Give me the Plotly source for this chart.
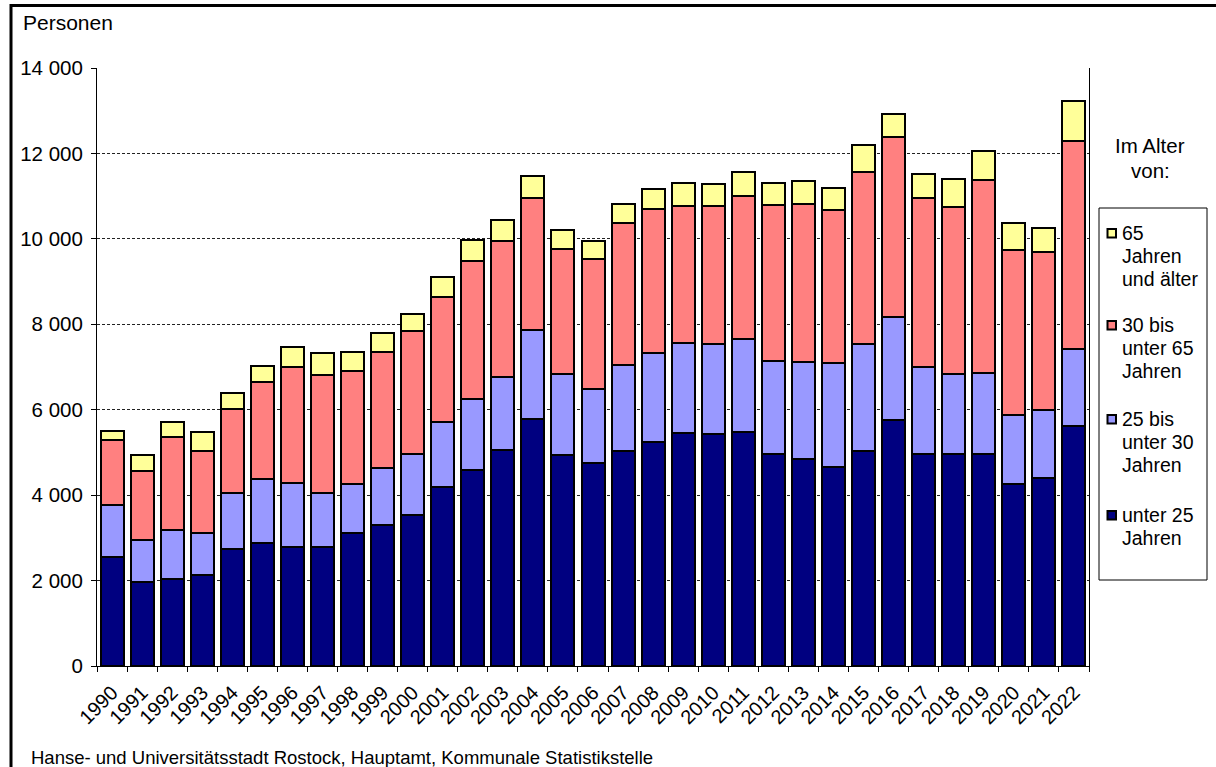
import plotly.graph_objects as go

# ---- data ----
years = [str(y) for y in range(1990, 2023)]
unter_25 = [2545, 1959, 2029, 2123, 2731, 2888, 2778, 2778, 3106, 3301, 3542,
            4198, 4588, 5057, 5775, 4947, 4745, 5033, 5244, 5462, 5423, 5485,
            4956, 4837, 4664, 5045, 5754, 4975, 4958, 4975, 4266, 4405, 5616]
bis_30 = [1217, 983, 1147, 998, 1327, 1482, 1514, 1265, 1155, 1334, 1421,
          1514, 1670, 1716, 2099, 1882, 1747, 2021, 2076, 2100, 2108, 2178,
          2177, 2275, 2422, 2491, 2405, 2025, 1886, 1895, 1618, 1591, 1816]
bis_65 = [1528, 1623, 2177, 1912, 1951, 2278, 2715, 2777, 2637, 2716, 2887,
          2934, 3216, 3176, 3075, 2941, 3043, 3317, 3371, 3215, 3246, 3347,
          3652, 3703, 3590, 4040, 4222, 3962, 3910, 4498, 3849, 3694, 4862]
ab_65 = [218, 367, 359, 453, 374, 375, 454, 500, 445, 437, 398,
         468, 499, 492, 522, 430, 407, 452, 476, 538, 499, 547,
         515, 545, 511, 623, 545, 554, 658, 693, 641, 571, 934]

series_names = [
    ["unter 25", "Jahren"],
    ["25 bis", "unter 30", "Jahren"],
    ["30 bis", "unter 65", "Jahren"],
    ["65", "Jahren", "und älter"],
]
series_values = [unter_25, bis_30, bis_65, ab_65]
colors = ["#000080", "#9999FF", "#FF8080", "#FFFF99"]

y_ticks = [0, 2000, 4000, 6000, 8000, 10000, 12000, 14000]

# ---- geometry of the page ----
W, H = 1216, 767
L, R, T, B = 97, 1089, 68, 666
FONT = "Liberation Sans, Arial, sans-serif"


def px(xp):
    return (xp - L) / (R - L)


def py(yp):
    return (B - yp) / (B - T)


fig = go.Figure()
for name, vals, col in zip(series_names, series_values, colors):
    fig.add_trace(go.Bar(
        x=years, y=vals, name=" ".join(name),
        marker=dict(color=col, line=dict(color="black", width=2)),
        showlegend=False,
    ))

shapes = []
annotations = []

# outer frame
shapes.append(dict(type="rect", xref="paper", yref="paper",
                   x0=px(11), x1=px(1240), y0=py(800), y1=py(5.5),
                   line=dict(color="black", width=3), fillcolor="rgba(0,0,0,0)"))

# legend box
shapes.append(dict(type="rect", xref="paper", yref="paper",
                   x0=px(1099), x1=px(1207), y0=py(580), y1=py(208),
                   line=dict(color="black", width=1), fillcolor="white"))

legend_first_line = [515, 419, 325, 233]
line_gap = 22.8
for names, col, y0 in zip(series_names, colors, legend_first_line):
    shapes.append(dict(type="rect", xref="paper", yref="paper",
                       x0=px(1107.5), x1=px(1116), y0=py(y0 + 4.5), y1=py(y0 - 4),
                       line=dict(color="black", width=2), fillcolor=col))
    for i, t in enumerate(names):
        annotations.append(dict(text=t, xref="paper", yref="paper",
                                x=px(1120), y=py(y0 + i * line_gap),
                                xanchor="left", yanchor="middle", showarrow=False,
                                font=dict(family=FONT, size=19.5, color="black")))

# legend title
for t, yy in [("Im Alter", 145), ("von:", 170)]:
    annotations.append(dict(text=t, xref="paper", yref="paper",
                            x=px(1150), y=py(yy), xanchor="center", yanchor="middle",
                            showarrow=False, font=dict(family=FONT, size=20.5, color="black")))

# axis title
annotations.append(dict(text="Personen", xref="paper", yref="paper",
                        x=px(21), y=py(22), xanchor="left", yanchor="middle",
                        showarrow=False, font=dict(family=FONT, size=21, color="black")))

# source
annotations.append(dict(text="Hanse- und Universitätsstadt Rostock, Hauptamt, Kommunale Statistikstelle",
                        xref="paper", yref="paper",
                        x=px(29), y=py(757), xanchor="left", yanchor="middle",
                        showarrow=False, font=dict(family=FONT, size=18.5, color="black")))

fig.update_layout(
    width=W, height=H,
    margin=dict(l=L, r=W - R, t=T, b=H - B, pad=0),
    barmode="stack", bargap=0.235,
    plot_bgcolor="white", paper_bgcolor="white",
    separators=", ",
    font=dict(family=FONT, size=19, color="black"),
    shapes=shapes, annotations=annotations,
    showlegend=False,
)
fig.update_xaxes(
    type="category", tickangle=-45, tickson="boundaries",
    ticks="outside", ticklen=5, tickcolor="black", tickwidth=1,
    showline=True, linecolor="black", linewidth=1,
    showgrid=False, tickfont=dict(family=FONT, size=20),
    ticklabelstandoff=6,
    range=[-0.5, len(years) - 0.5],
)
fig.update_yaxes(
    range=[0, 14000], tickvals=y_ticks, tickformat=",d",
    ticks="outside", ticklen=5, tickcolor="black", tickwidth=1,
    showline=True, linecolor="black", linewidth=1, mirror=True,
    showgrid=True, gridcolor="#222222", gridwidth=1, griddash="3px,2px",
    tickfont=dict(family=FONT, size=20.5), ticklabelstandoff=4,
    zeroline=False,
)

fig.write_html("out.html", config={"displayModeBar": False},
               post_script="document.body.style.margin='0';document.body.style.overflow='hidden';")
